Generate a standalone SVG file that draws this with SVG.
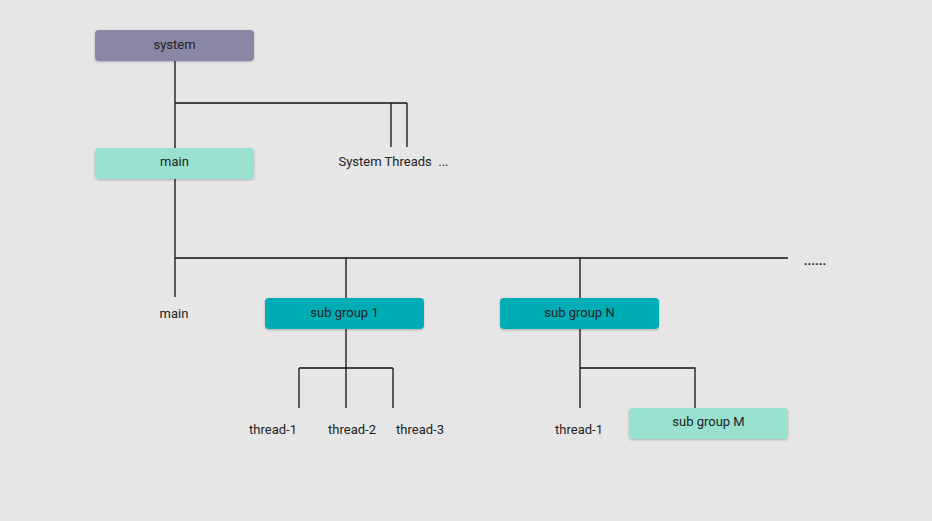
<svg xmlns="http://www.w3.org/2000/svg" width="932" height="521" viewBox="0 0 932 521">
<defs>
<filter id="sh" x="-10%" y="-20%" width="120%" height="150%"><feDropShadow dx="0" dy="1" stdDeviation="1" flood-color="#000" flood-opacity="0.25"/></filter>
</defs>
<style>
.box{filter:url(#sh)}
.t{font-family:Roboto,"Liberation Sans",sans-serif;font-size:13px;fill:#222;text-anchor:middle}
.c{stroke:#111;stroke-width:1.3;fill:none}
</style>
<rect width="932" height="521" fill="#e6e6e6"/>
<g id="connectors">
<path class="c" d="M175 61V148M175 103H407M391 103V147M407 103V147"/>
<path class="c" d="M175 179V297M175 258H788M346 258V298M580 258V298"/>
<path class="c" d="M346 329V408M299 368H393M299 368V408M393 368V408"/>
<path class="c" d="M580 329V408M580 368H695V408"/>
</g>
<g id="system"><rect class="box" x="95" y="30" width="159" height="31" rx="4" fill="#8a87a6"/><text class="t" x="174.5" y="49">system</text></g>
<g id="main-group"><rect class="box" x="95" y="148" width="159" height="31" rx="4" fill="#98e1d0"/><text class="t" x="174.5" y="166">main</text></g>
<g id="system-threads"><text class="t" x="393.5" y="166" xml:space="preserve" style="white-space:pre">System Threads  ...</text></g>
<g id="main-thread"><text class="t" x="174" y="318">main</text></g>
<g id="subgroup1"><rect class="box" x="265" y="298" width="159" height="31" rx="4" fill="#00adb5"/><text class="t" x="344.5" y="317">sub group 1</text></g>
<g id="subgroupN"><rect class="box" x="500" y="298" width="159" height="31" rx="4" fill="#00adb5"/><text class="t" x="579.5" y="317">sub group N</text></g>
<g id="more"><text class="t" x="815" y="265" style="font-weight:bold">......</text></g>
<g id="g1-thread1"><text class="t" x="273" y="434">thread-1</text></g>
<g id="g1-thread2"><text class="t" x="352" y="434">thread-2</text></g>
<g id="g1-thread3"><text class="t" x="420" y="434">thread-3</text></g>
<g id="gN-thread1"><text class="t" x="579" y="434">thread-1</text></g>
<g id="subgroupM"><rect class="box" x="629" y="408" width="159" height="31" rx="4" fill="#98e1d0"/><text class="t" x="708.5" y="426">sub group M</text></g>
</svg>
